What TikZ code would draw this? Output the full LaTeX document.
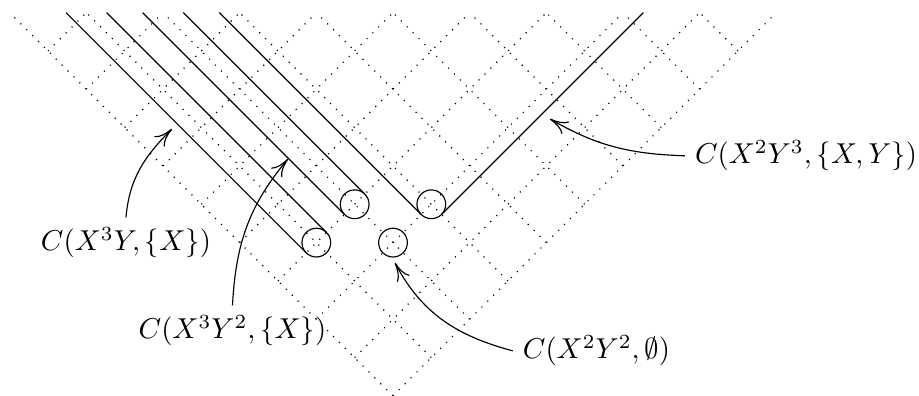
\documentclass[tikz,border=0pt]{standalone}
\usetikzlibrary{arrows.meta}
\begin{document}
\begin{tikzpicture}[x=13.32pt,y=13.32pt,
  gridline/.style={dash pattern=on 0.4pt off 2.5pt},
  tubeline/.style={line width=0.4pt},
  lab/.style={anchor=base},
  ann/.style={-{To[length=6.3pt,width=5pt]}}]
\useasboundingbox (-10.253,0) rectangle (13.723,10.33);
% dotted lattice
\foreach \i in {0,...,9} {
  \draw[gridline] (-\i,\i) -- ({10-2*\i},10);
  \draw[gridline] (\i,\i) -- ({2*\i-10},10);
}
% lattice points X^aY^b at (b-a, a+b)
\coordinate (p31) at (-2,4);
\coordinate (p32) at (-1,5);
\coordinate (p22) at (0,4);
\coordinate (p23) at (1,5);
\def\rr{0.375}
\draw (p31) circle[radius=\rr];
\draw (p32) circle[radius=\rr];
\draw (p22) circle[radius=\rr];
\draw (p23) circle[radius=\rr];
% tubes
\draw[tubeline] (-1.7348,4.2652) -- (-7.4696,10);
\draw[tubeline] (-2.2652,3.7348) -- (-8.5304,10);
\draw[tubeline] (-0.7348,5.2652) -- (-5.4696,10);
\draw[tubeline] (-1.2652,4.7348) -- (-6.5304,10);
% cone
\draw[tubeline] (0.7348,4.7348) -- (-4.5304,10);
\draw[tubeline] (1.2652,4.7348) -- (6.5304,10);
% labels
\node[lab] (l1) at (-6.966,3.783) {$C(X^3Y,\{X\})$};
\node[lab] (l2) at (-4.187,1.487) {$C(X^3Y^2,\{X\})$};
\node[lab] (l3) at (5.309,0.965) {$C(X^2Y^2,\emptyset)$};
\node[lab] (l4) at (10.775,6.053) {$C(X^2Y^3,\{X,Y\})$};
% annotation arrows
\coordinate (t1) at (-5.766,6.966);
\coordinate (t2) at (-2.739,6.183);
\coordinate (t3) at (0.052,3.47);
\coordinate (t4) at (4.096,7.227);
\draw[ann] (l1.north) to[out=85,in=225] (t1);
\draw[ann] (l2.north) to[out=87,in=230] (t2);
\draw[ann] (l3.west) to[out=165,in=-62] (t3);
\draw[ann] (l4.west) to[out=178,in=-30] (t4);
\end{tikzpicture}
\end{document}
